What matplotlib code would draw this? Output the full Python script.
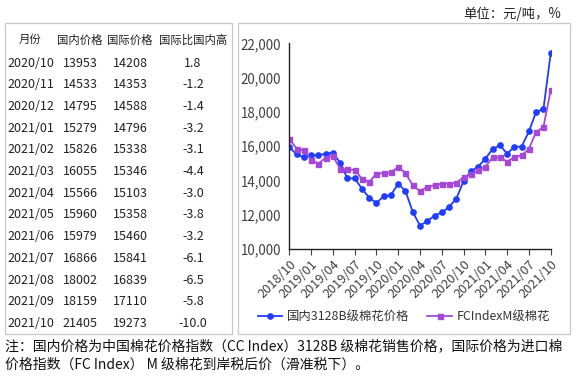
import matplotlib
matplotlib.use("Agg")
import matplotlib.pyplot as plt
from matplotlib.patches import Rectangle

plt.rcParams['font.family'] = ['Noto Sans CJK SC', 'DejaVu Sans']

# ---- data ----
months = ["2018/10", "2018/11", "2018/12", "2019/01", "2019/02", "2019/03", "2019/04",
          "2019/05", "2019/06", "2019/07", "2019/08", "2019/09", "2019/10", "2019/11",
          "2019/12", "2020/01", "2020/02", "2020/03", "2020/04", "2020/05", "2020/06",
          "2020/07", "2020/08", "2020/09", "2020/10", "2020/11", "2020/12", "2021/01",
          "2021/02", "2021/03", "2021/04", "2021/05", "2021/06", "2021/07", "2021/08",
          "2021/09", "2021/10"]
domestic = [15950, 15520, 15360, 15460, 15460, 15560, 15615, 15035, 14120, 14120,
            13520, 12990, 12690, 13075, 13150, 13810, 13380, 12160, 11370, 11620,
            11950, 12130, 12450, 12940, 13953, 14533, 14795, 15279, 15826, 16055,
            15566, 15960, 15979, 16866, 18002, 18159, 21405]
international = [16430, 15850, 15750, 15210, 14980, 15325, 15420, 14685, 14640, 14610,
                 14100, 13910, 14395, 14430, 14470, 14780, 14430, 13715, 13370, 13620,
                 13715, 13810, 13810, 13850, 14208, 14353, 14588, 14796, 15338, 15346,
                 15103, 15358, 15460, 15841, 16839, 17110, 19273]

table_header = ["月份", "国内价格", "国际价格", "国际比国内高"]
table_months = ["2020/10", "2020/11", "2020/12", "2021/01", "2021/02", "2021/03", "2021/04",
                "2021/05", "2021/06", "2021/07", "2021/08", "2021/09", "2021/10"]
table_dom = ["13953", "14533", "14795", "15279", "15826", "16055", "15566", "15960",
             "15979", "16866", "18002", "18159", "21405"]
table_int = ["14208", "14353", "14588", "14796", "15338", "15346", "15103", "15358",
             "15460", "15841", "16839", "17110", "19273"]
table_diff = ["1.8", "-1.2", "-1.4", "-3.2", "-3.1", "-4.4", "-3.0", "-3.8", "-3.2",
              "-6.1", "-6.5", "-5.8", "-10.0"]

series_names = ["国内3128B级棉花价格", "FCIndexM级棉花"]
unit_text = "单位：元/吨，%"
note_lines = ["注：国内价格为中国棉花价格指数（CC Index）3128B 级棉花销售价格，国际价格为进口棉",
              "价格指数（FC Index） M 级棉花到岸税后价（滑准税下）。"]

W, H = 577, 377
fig = plt.figure(figsize=(W / 100, H / 100), dpi=100)

def fx(px):
    return px / W

def fy(py):
    return 1 - py / H

# panel boxes
for (x0, x1) in [(5, 232), (238, 570)]:
    fig.add_artist(Rectangle((fx(x0), fy(334)), fx(x1) - fx(x0), fy(23) - fy(334),
                             transform=fig.transFigure, fill=False,
                             edgecolor="#c8c8c8", linewidth=0.9))

# table
txtc = "#222222"
tfs = 9.0
col_x = [30, 80, 130, 193]
for i in range(4):
    fig.text(fx(col_x[i]), fy(40), table_header[i], ha="center", va="center", fontsize=8.2, color=txtc)
for r in range(len(table_months)):
    y = 63.3 + r * 21.67
    fig.text(fx(7), fy(y), table_months[r], ha="left", va="center", fontsize=tfs, color=txtc)
    fig.text(fx(col_x[1]), fy(y), table_dom[r], ha="center", va="center", fontsize=tfs, color=txtc)
    fig.text(fx(col_x[2]), fy(y), table_int[r], ha="center", va="center", fontsize=tfs, color=txtc)
    fig.text(fx(col_x[3]), fy(y), table_diff[r], ha="center", va="center", fontsize=tfs, color=txtc)

# unit text
fig.text(fx(561), fy(14), unit_text, ha="right", va="center", fontsize=9.6, color=txtc)

# chart
ax = fig.add_axes([fx(289.3), fy(249), fx(550.7) - fx(289.3), fy(43.3) - fy(249)])
x = list(range(len(months)))
blue = "#1f3cff"
purple = "#a548d8"
ax.plot(x, domestic, color=blue, marker="o", markersize=3.8, linewidth=1.3, label=series_names[0])
ax.plot(x, international, color=purple, marker="s", markersize=3.6, linewidth=1.3, label=series_names[1])
ax.set_xlim(0, len(months) - 1)
ax.set_ylim(10000, 22000)
ax.set_yticks(range(10000, 22001, 2000))
ax.set_yticklabels([f"{v:,}" for v in range(10000, 22001, 2000)], fontsize=9.6, color="#404040")
ax.set_xticks(x[::3])
ax.set_xticklabels(months[::3], rotation=45, ha="right", rotation_mode="anchor",
                   fontsize=9.2, color="#404040")
ax.tick_params(axis="y", length=0, pad=6)
ax.tick_params(axis="x", length=4, direction="out", color="#404040", pad=2)
for s in ["top", "right"]:
    ax.spines[s].set_visible(False)
for s in ["left", "bottom"]:
    ax.spines[s].set_color("#222222")
    ax.spines[s].set_linewidth(1.0)

fig.legend(loc="center", bbox_to_anchor=(fx(404), fy(317)), ncol=2, frameon=False,
           fontsize=8.9, handlelength=2.0, columnspacing=1.4, handletextpad=0.4,
           labelcolor="#333333")

# footnote
fig.text(fx(5), fy(346), note_lines[0], ha="left", va="center", fontsize=10.0, color="#111111")
fig.text(fx(5), fy(365), note_lines[1], ha="left", va="center", fontsize=10.0, color="#111111")

fig.savefig("out.png", dpi=100)
